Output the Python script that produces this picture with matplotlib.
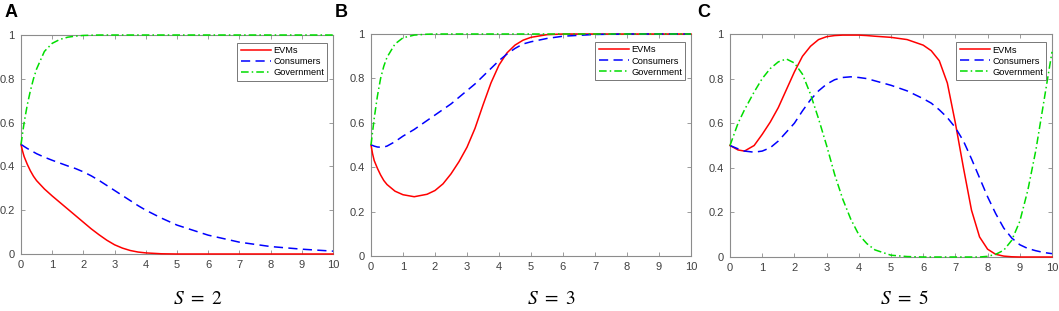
import matplotlib
matplotlib.use("Agg")
import matplotlib.pyplot as plt

# values, time from 0 to 10
t_a = [0, 0.05, 0.1, 0.2, 0.3, 0.4, 0.5, 0.75, 1, 1.25, 1.5, 1.75, 2, 2.25, 2.5, 2.75, 3,
       3.25, 3.5, 3.75, 4, 4.5, 5, 6, 7, 8, 9, 10]
evm_a = [0.5, 0.47, 0.445, 0.41, 0.38, 0.355, 0.335, 0.297, 0.265, 0.235, 0.205, 0.175,
         0.145, 0.115, 0.088, 0.063, 0.042, 0.027, 0.016, 0.009, 0.005, 0.001, 0, 0, 0, 0,
         0, 0]
con_a = [0.5, 0.496, 0.491, 0.482, 0.474, 0.466, 0.458, 0.442, 0.428, 0.415, 0.402, 0.39,
         0.375, 0.357, 0.336, 0.313, 0.29, 0.267, 0.244, 0.221, 0.2, 0.164, 0.132, 0.086,
         0.054, 0.034, 0.022, 0.013]
gov_a = [0.5, 0.55, 0.6, 0.68, 0.745, 0.8, 0.845, 0.925, 0.962, 0.98, 0.99, 0.995, 0.998,
         0.999, 1, 1, 1, 1, 1, 1, 1, 1, 1, 1, 1, 1, 1, 1]

t_b = [0, 0.05, 0.1, 0.2, 0.3, 0.4, 0.5, 0.75, 1, 1.35, 1.75, 2, 2.25, 2.5, 2.75, 3, 3.25,
       3.5, 3.75, 4, 4.25, 4.5, 4.75, 5, 5.5, 6, 7, 8, 9, 10]
evm_b = [0.5, 0.46, 0.43, 0.395, 0.365, 0.34, 0.322, 0.292, 0.276, 0.267, 0.278, 0.295,
         0.325, 0.37, 0.425, 0.49, 0.575, 0.68, 0.78, 0.86, 0.915, 0.95, 0.972, 0.985, 0.997,
         1, 1, 1, 1, 1]
con_b = [0.5, 0.498, 0.495, 0.491, 0.49, 0.491, 0.495, 0.515, 0.54, 0.57, 0.61, 0.635, 0.66,
         0.685, 0.715, 0.745, 0.775, 0.81, 0.845, 0.88, 0.91, 0.935, 0.955, 0.965, 0.98, 0.99,
         0.998, 1, 1, 1]
gov_b = [0.5, 0.56, 0.62, 0.72, 0.8, 0.855, 0.895, 0.955, 0.983, 0.995, 0.999, 1, 1, 1, 1,
         1, 1, 1, 1, 1, 1, 1, 1, 1, 1, 1, 1, 1, 1, 1]

t_c = [0, 0.25, 0.45, 0.75, 1, 1.25, 1.5, 1.75, 2, 2.25, 2.5, 2.75, 3, 3.25, 3.5, 3.75, 4,
       4.25, 4.5, 5, 5.5, 6, 6.25, 6.5, 6.75, 7, 7.25, 7.5, 7.75, 8, 8.25, 8.5, 8.75, 9, 9.25,
       9.5, 9.75, 10]
evm_c = [0.5, 0.48, 0.475, 0.5, 0.55, 0.605, 0.67, 0.75, 0.83, 0.9, 0.945, 0.975, 0.988, 0.993,
         0.995, 0.995, 0.995, 0.993, 0.99, 0.985, 0.975, 0.95, 0.925, 0.88, 0.78, 0.6, 0.4, 0.21,
         0.09, 0.035, 0.012, 0.004, 0.001, 0, 0, 0, 0, 0]
con_c = [0.5, 0.485, 0.475, 0.47, 0.475, 0.49, 0.52, 0.56, 0.6, 0.655, 0.705, 0.745, 0.775,
         0.795, 0.805, 0.808, 0.805, 0.8, 0.79, 0.77, 0.745, 0.71, 0.69, 0.66, 0.625, 0.58, 0.52,
         0.44, 0.355, 0.27, 0.195, 0.13, 0.085, 0.055, 0.038, 0.028, 0.02, 0.015]
gov_c = [0.5, 0.6, 0.66, 0.74, 0.8, 0.845, 0.875, 0.888, 0.87, 0.82, 0.73, 0.62, 0.5, 0.37,
         0.26, 0.17, 0.1, 0.06, 0.032, 0.008, 0.002, 0, 0, 0, 0, 0, 0, 0, 0, 0.003, 0.012, 0.03,
         0.075, 0.16, 0.3, 0.48, 0.7, 0.92]

letters = ["A", "B", "C"]
captions = ["2", "3", "5"]
labels = ["EVMs", "Consumers", "Government"]

panels = [
    (t_a, evm_a, con_a, gov_a),
    (t_b, evm_b, con_b, gov_b),
    (t_c, evm_c, con_c, gov_c),
]

# pixel boxes of the three axes: left, bottom, width, height
W, H = 1059, 311
boxes = [(21, 57, 312, 219), (371, 55, 320, 222), (730, 54, 322, 223)]
letter_x = [5, 335, 697]
caption_x = [198, 551, 904]

plt.rcParams["font.family"] = ["Liberation Sans", "DejaVu Sans"]
plt.rcParams["mathtext.fontset"] = "stix"

fig = plt.figure(figsize=(W / 100, H / 100), dpi=100)
grey = "#8c8c8c"
tick_grey = "#404040"

for i, (t, evm, con, gov) in enumerate(panels):
    l, b, w, h = boxes[i]
    ax = fig.add_axes([l / W, b / H, w / W, h / H])
    kw = dict(lw=1.1, clip_on=False, zorder=3)
    ax.plot(t, evm, color="#ff0000", ls="-", label=labels[0], **kw)
    ax.plot(t, con, color="#0000ff", ls=(0, (6, 3.5)), label=labels[1], **kw)
    ax.plot(t, gov, color="#00dd00", ls=(0, (5, 2, 1, 2)), label=labels[2], **kw)
    ax.set_xlim(0, 10)
    ax.set_ylim(0, 1)
    ax.set_xticks(range(0, 11))
    ax.set_yticks([0, 0.2, 0.4, 0.6, 0.8, 1])
    ax.set_yticklabels(["0", "0.2", "0.4", "0.6", "0.8", "1"])
    ax.tick_params(direction="in", top=True, right=True, length=3, width=0.6,
                   colors=grey, labelcolor=tick_grey, labelsize=8, pad=4.5)
    for sp in ax.spines.values():
        sp.set_color(grey)
        sp.set_linewidth(0.8)
        sp.set_zorder(2)
    leg = ax.legend(loc="upper right", fontsize=6.7, frameon=True, fancybox=False,
                    borderpad=0.35, labelspacing=0.22, handlelength=3.3, handletextpad=0.2,
                    borderaxespad=0.0, bbox_to_anchor=(0.982, 0.963))
    leg.get_frame().set_edgecolor("#555555")
    leg.get_frame().set_linewidth(0.7)
    leg.set_zorder(5)

    fig.text(letter_x[i] / W, 1 - 4 / H, letters[i], fontsize=13, fontweight="bold",
             ha="left", va="top", color="black")
    fig.text(caption_x[i] / W, 1 - 299 / H, r"$S\ =\ $" + r"$\mathrm{" + captions[i] + "}$",
             fontsize=14, ha="center", va="center")

fig.savefig("out.png", dpi=100)
